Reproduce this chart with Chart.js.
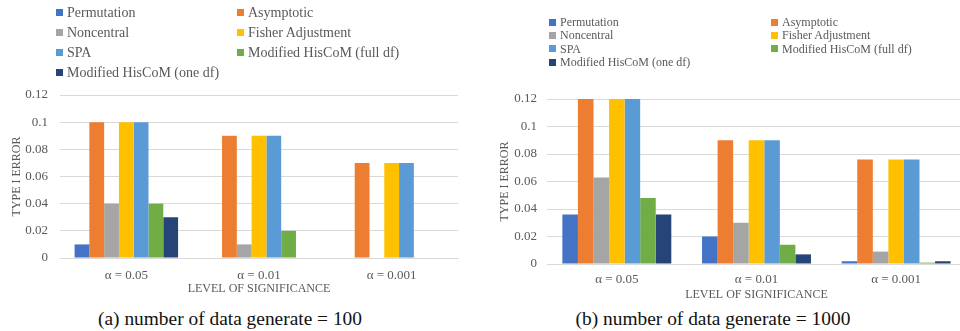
<!DOCTYPE html>
<html>
<head>
<meta charset="utf-8">
<script src="https://cdn.jsdelivr.net/npm/chart.js@4.4.1/dist/chart.umd.min.js"></script>
<style>
  html, body { margin: 0; padding: 0; background: #fff; overflow: hidden; }
  body { width: 960px; height: 331px; position: relative; font-family: 'Liberation Serif', 'Times New Roman', serif; }
  .box { position: absolute; }
  .legend { position: absolute; color: #595959; font-family: 'Liberation Serif', 'Times New Roman', serif; }
  .legend .item { position: absolute; white-space: nowrap; }
  .legend .sw { display: inline-block; vertical-align: middle; margin-right: 4px; position: relative; top: -1px; }
  .caption { position: absolute; font-size: 19.4px; color: #111; white-space: nowrap; transform: translate(-50%, -50%); font-family: 'Liberation Serif', 'Times New Roman', serif; }
</style>
</head>
<body>
<div class="box" style="left:0;top:0;width:480px;height:300px;"><canvas id="chartA"></canvas></div>
<div class="box" style="left:480px;top:0;width:486px;height:306px;"><canvas id="chartB"></canvas></div>
<div class="legend" id="legendA"></div>
<div class="legend" id="legendB"></div>
<div class="caption" style="left:230px;top:319px;">(a) number of data generate = 100</div>
<div class="caption" style="left:713px;top:319px;">(b) number of data generate = 1000</div>
<script>
// data
const categories = ['α = 0.05', 'α = 0.01', 'α = 0.001'];
const methods = ['Permutation', 'Asymptotic', 'Noncentral', 'Fisher Adjustment', 'SPA', 'Modified HisCoM (full df)', 'Modified HisCoM (one df)'];
const colors = ['#4472C4', '#ED7D31', '#A5A5A5', '#FFC000', '#5B9BD5', '#70AD47', '#264478'];

// (a) n = 100
const errA = [
  [0.01, 0, 0],
  [0.10, 0.09, 0.07],
  [0.04, 0.01, 0],
  [0.10, 0.09, 0.07],
  [0.10, 0.09, 0.07],
  [0.04, 0.02, 0],
  [0.03, 0, 0]
];
// (b) n = 1000
const errB = [
  [0.036, 0.020, 0.002],
  [0.120, 0.090, 0.076],
  [0.063, 0.030, 0.009],
  [0.120, 0.090, 0.076],
  [0.120, 0.090, 0.076],
  [0.048, 0.014, 0.001],
  [0.036, 0.007, 0.002]
];
const yTicks = [0, 0.02, 0.04, 0.06, 0.08, 0.1, 0.12];

const grey = '#595959';
const serif = "'Liberation Serif', 'Times New Roman', serif";

function makeChart(id, series, o) {
  return new Chart(document.getElementById(id), {
    type: 'bar',
    data: {
      labels: categories,
      datasets: methods.map((m, i) => ({
        label: m,
        data: series[i],
        backgroundColor: colors[i],
        borderWidth: 0,
        barPercentage: 1,
        categoryPercentage: 0.78
      }))
    },
    options: {
      responsive: true,
      maintainAspectRatio: false,
      animation: false,
      layout: { padding: { left: 0, right: o.padRight, top: o.padTop, bottom: 0 } },
      plugins: { legend: { display: false }, tooltip: { enabled: false } },
      scales: {
        x: {
          grid: { display: false },
          border: { color: '#d9d9d9' },
          ticks: { color: grey, font: { family: serif, size: 13 }, padding: o.xTickPad },
          title: { display: true, text: 'LEVEL OF SIGNIFICANCE', color: grey, font: { family: serif, size: 12 }, padding: { top: 0, bottom: 4 } },
          afterFit: s => { s.height = o.xHeight; }
        },
        y: {
          min: 0, max: 0.12,
          afterBuildTicks: s => { s.ticks = yTicks.map(v => ({ value: v })); },
          grid: { color: '#d9d9d9', drawTicks: false },
          border: { display: false },
          ticks: { color: grey, font: { family: serif, size: 13 }, padding: o.tickPad, callback: v => String(v) },
          title: { display: true, text: 'TYPE I ERROR', color: grey, font: { family: serif, size: 12 }, padding: { top: o.titlePad, bottom: 0 } },
          afterFit: s => { s.width = o.yWidth; }
        }
      }
    }
  });
}

makeChart('chartA', errA, { padRight: 22, padTop: 95, xHeight: 42, yWidth: 60, tickPad: 12, titlePad: 10, xTickPad: 2 });
makeChart('chartB', errB, { padRight: 0, padTop: 99, xHeight: 42, yWidth: 67, tickPad: 10, titlePad: 18, xTickPad: 0 });

function makeLegend(id, o) {
  const el = document.getElementById(id);
  el.style.left = o.left + 'px';
  el.style.top = o.top + 'px';
  el.style.fontSize = o.size + 'px';
  methods.forEach((m, i) => {
    const it = document.createElement('div');
    it.className = 'item';
    it.style.left = (i % 2 ? o.colGap : 0) + 'px';
    it.style.top = (Math.floor(i / 2) * o.rowGap) + 'px';
    it.innerHTML = '<span class="sw" style="width:' + o.sw + 'px;height:' + o.sw + 'px;background:' + colors[i] + '"></span>' + m;
    el.appendChild(it);
  });
}
makeLegend('legendA', { left: 56, top: 5, size: 14, rowGap: 20, colGap: 181, sw: 7 });
makeLegend('legendB', { left: 549, top: 15, size: 12, rowGap: 13.3, colGap: 222, sw: 7 });
</script>
</body>
</html>
